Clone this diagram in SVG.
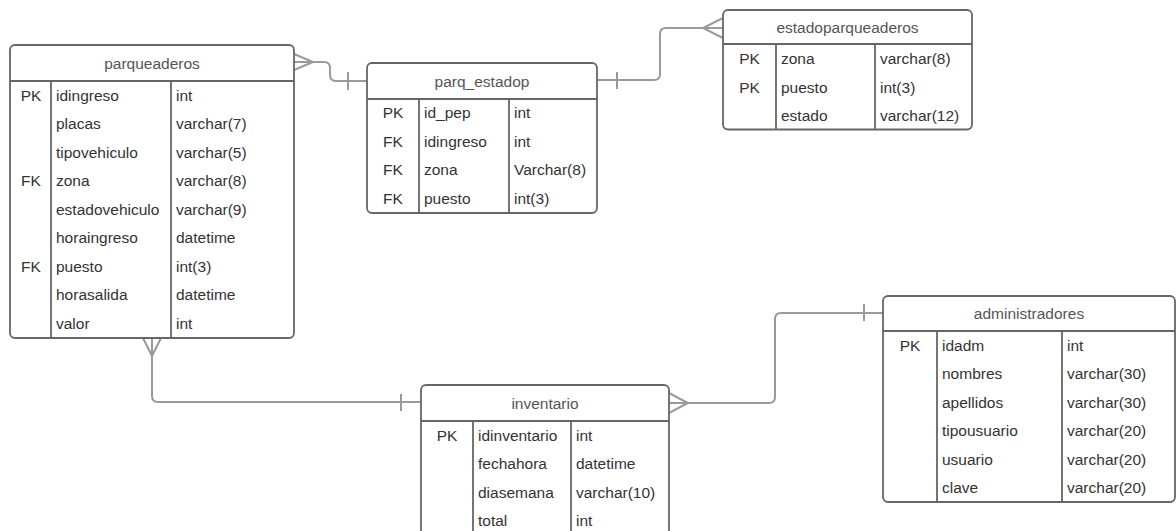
<svg xmlns="http://www.w3.org/2000/svg" width="1176" height="531" viewBox="0 0 1176 531">
<style>
.box{fill:#fff;stroke:#666;stroke-width:1.8}
.ln{stroke:#666;stroke-width:1.8;fill:none}
.cn{stroke:#9a9a9a;stroke-width:2;fill:none}
text{font-family:"Liberation Sans",Arial,sans-serif;font-size:15.5px;fill:#333}
.h{fill:#555;text-anchor:middle}
.k{text-anchor:middle}
</style>
<rect width="1176" height="531" fill="#fff"/>
<g id="connectors">
<path class="cn" d="M294 62 H324 Q330 62 330 68 V75 Q330 81 336 81 H367"/>
<path class="cn" d="M294 54 L313 62 L294 70"/>
<path class="cn" d="M348 72 V90"/>
<path class="cn" d="M597 80 H654 Q660 80 660 74 V34 Q660 28 666 28 H723"/>
<path class="cn" d="M723 18 L703 28 L723 38"/>
<path class="cn" d="M617 72 V89"/>
<path class="cn" d="M152 338 V396 Q152 402 158 402 H421"/>
<path class="cn" d="M143 338 L152 356 L161 338"/>
<path class="cn" d="M401 394 V411"/>
<path class="cn" d="M669 403 H769 Q775 403 775 397 V319 Q775 313 781 313 H883"/>
<path class="cn" d="M669 393 L688 403 L669 413"/>
<path class="cn" d="M864 304 V321"/>
</g>
<g id="parqueaderos">
<rect class="box" x="10" y="45" width="284" height="293" rx="5"/>
<path class="ln" d="M10 81 H294 M51 81 V338 M171 81 V338"/>
<text class="h" x="152" y="68.5">parqueaderos</text>
<text class="k" x="31" y="100.5">PK</text><text x="56" y="100.5">idingreso</text><text x="176" y="100.5">int</text>
<text x="56" y="129">placas</text><text x="176" y="129">varchar(7)</text>
<text x="56" y="157.5">tipovehiculo</text><text x="176" y="157.5">varchar(5)</text>
<text class="k" x="31" y="186">FK</text><text x="56" y="186">zona</text><text x="176" y="186">varchar(8)</text>
<text x="56" y="214.5">estadovehiculo</text><text x="176" y="214.5">varchar(9)</text>
<text x="56" y="243">horaingreso</text><text x="176" y="243">datetime</text>
<text class="k" x="31" y="271.5">FK</text><text x="56" y="271.5">puesto</text><text x="176" y="271.5">int(3)</text>
<text x="56" y="300">horasalida</text><text x="176" y="300">datetime</text>
<text x="56" y="328.5">valor</text><text x="176" y="328.5">int</text>
</g>
<g id="parq_estadop">
<rect class="box" x="367" y="63" width="230" height="150" rx="5"/>
<path class="ln" d="M367 99 H597 M419 99 V213 M509 99 V213"/>
<text class="h" x="482" y="86.5">parq_estadop</text>
<text class="k" x="393" y="118">PK</text><text x="424" y="118">id_pep</text><text x="514" y="118">int</text>
<text class="k" x="393" y="146.5">FK</text><text x="424" y="146.5">idingreso</text><text x="514" y="146.5">int</text>
<text class="k" x="393" y="175">FK</text><text x="424" y="175">zona</text><text x="514" y="175">Varchar(8)</text>
<text class="k" x="393" y="203.5">FK</text><text x="424" y="203.5">puesto</text><text x="514" y="203.5">int(3)</text>
</g>
<g id="estadoparqueaderos">
<rect class="box" x="723" y="10" width="249" height="119.5" rx="5"/>
<path class="ln" d="M723 44 H972 M776 44 V129.5 M875 44 V129.5"/>
<text class="h" x="847.5" y="32.5">estadoparqueaderos</text>
<text class="k" x="749.5" y="64">PK</text><text x="781" y="64">zona</text><text x="880" y="64">varchar(8)</text>
<text class="k" x="749.5" y="92.5">PK</text><text x="781" y="92.5">puesto</text><text x="880" y="92.5">int(3)</text>
<text x="781" y="121">estado</text><text x="880" y="121">varchar(12)</text>
</g>
<g id="inventario">
<rect class="box" x="421" y="385" width="248" height="152" rx="5"/>
<path class="ln" d="M421 421 H669 M473 421 V537 M571 421 V537"/>
<text class="h" x="545" y="408.5">inventario</text>
<text class="k" x="447" y="440.5">PK</text><text x="478" y="440.5">idinventario</text><text x="576" y="440.5">int</text>
<text x="478" y="469">fechahora</text><text x="576" y="469">datetime</text>
<text x="478" y="497.5">diasemana</text><text x="576" y="497.5">varchar(10)</text>
<text x="478" y="526">total</text><text x="576" y="526">int</text>
</g>
<g id="administradores">
<rect class="box" x="883" y="296" width="292" height="206" rx="5"/>
<path class="ln" d="M883 331 H1175 M937 331 V502 M1062 331 V502"/>
<text class="h" x="1029" y="319">administradores</text>
<text class="k" x="910" y="350.5">PK</text><text x="942" y="350.5">idadm</text><text x="1067" y="350.5">int</text>
<text x="942" y="379">nombres</text><text x="1067" y="379">varchar(30)</text>
<text x="942" y="407.5">apellidos</text><text x="1067" y="407.5">varchar(30)</text>
<text x="942" y="436">tipousuario</text><text x="1067" y="436">varchar(20)</text>
<text x="942" y="464.5">usuario</text><text x="1067" y="464.5">varchar(20)</text>
<text x="942" y="493">clave</text><text x="1067" y="493">varchar(20)</text>
</g>
</svg>
